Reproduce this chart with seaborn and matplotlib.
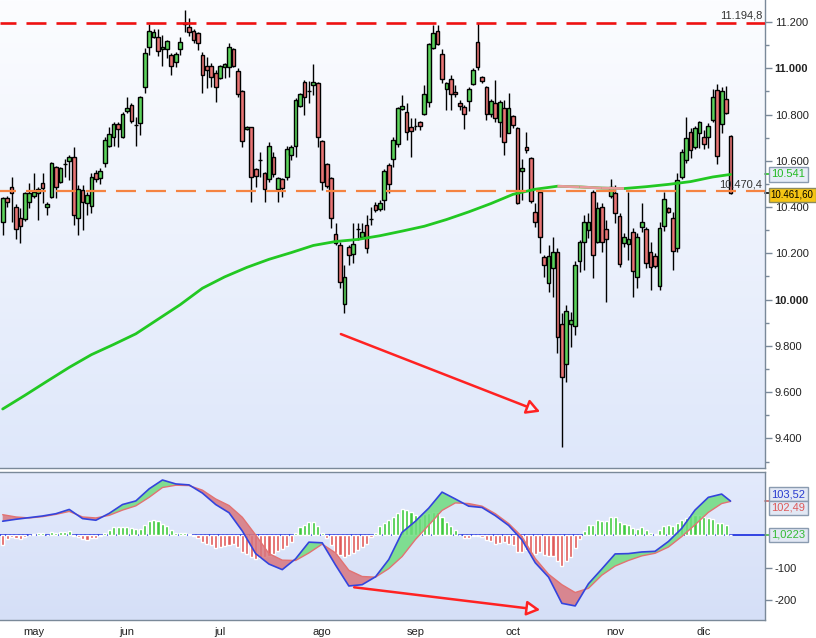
import numpy as np
import pandas as pd
import matplotlib
matplotlib.use("Agg")
import matplotlib.pyplot as plt
import matplotlib.transforms as mtransforms
from matplotlib.colors import LinearSegmentedColormap
import seaborn as sns

# ---------------- data (IBEX-like daily candles, Apr 22 - Dec 9) ----------------
dates = pd.bdate_range("2014-04-22", "2014-12-09")
dates = dates[dates != pd.Timestamp("2014-05-01")]

opens = [10337,10438,10485,10399,10351,10347,10423,10449,10459,10503,
         10399,10445,10572,10510,10585,10601,10615,10351,10474,10416,
         10406,10549,10524,10592,10665,10701,10758,10704,10817,10840,
         10756,10762,10918,11090,11137,11134,11083,11082,11056,11029,
         11082,11194,11177,11163,11151,11059,11010,11011,10978,10956,
         11007,11004,11082,10988,10902,10737,10745,10563,10603,10546,
         10520,10615,10477,10520,10529,10624,10665,10838,10939,10903,
         10928,10935,10686,10586,10524,10282,10236,9979,10226,10196,
         10306,10272,10321,10349,10409,10390,10430,10582,10606,10671,
         10822,10810,10745,10749,10766,10801,10853,11086,11161,11060,
         10909,10952,10896,10848,10831,10858,10932,11112,10961,10918,
         10801,10848,10769,10827,10722,10794,10740,10557,10658,10611,
         10380,10467,10183,10070,10135,10204,9894,9722,9894,9887,
         10167,10250,10301,10467,10250,10402,10304,10449,10459,10361,
         10243,10240,10291,10099,10315,10304,10204,10190,10059,10318,
         10395,10351,10222,10531,10603,10723,10661,10722,10704,10701,
         10776,10906,10759,10867,10707]
highs = [10445,10448,10531,10413,10394,10467,10503,10546,10488,10549,
         10423,10596,10579,10575,10606,10625,10661,10495,10495,10467,
         10546,10560,10567,10704,10748,10769,10769,10812,10877,10848,
         10791,10880,11086,11191,11168,11168,11144,11122,11065,11072,
         11137,11252,11216,11168,11158,11072,11050,11021,10993,11014,
         11021,11108,11086,11003,10906,10750,10748,10567,10640,10553,
         10683,10640,10531,10524,10664,10668,10870,10892,10949,10945,
         11018,10942,10690,10592,10531,10330,10250,10150,10236,10330,
         10333,10333,10366,10402,10423,10431,10563,10589,10701,10834,
         10884,10848,10784,10786,10773,10928,11111,11187,11187,11082,
         10942,10971,10928,10863,10841,10918,11000,11195,10967,10923,
         10866,10949,10863,10863,10892,10798,10745,10606,10726,10618,
         10416,10474,10193,10236,10272,10222,9941,9977,9948,10167,
         10258,10366,10373,10474,10423,10416,10344,10520,10495,10373,
         10286,10467,10308,10286,10416,10315,10250,10200,10337,10467,
         10402,10380,10546,10650,10791,10740,10750,10773,10733,10762,
         10909,10932,10920,10923,10711]
lows = [10279,10402,10337,10263,10246,10341,10394,10438,10344,10416,
        10366,10438,10438,10503,10531,10517,10322,10279,10301,10366,
        10373,10510,10500,10575,10661,10664,10661,10697,10805,10765,
        10665,10711,10892,11057,11129,11053,11010,11043,10971,11007,
        11057,11158,11139,11108,11079,10892,10913,10920,10853,10952,
        10956,10964,11007,10877,10661,10733,10423,10488,10531,10423,
        10510,10531,10423,10445,10517,10603,10618,10834,10798,10851,
        10884,10661,10474,10481,10308,10236,10049,9943,10150,10160,
        10258,10265,10200,10322,10380,10384,10387,10459,10575,10661,
        10820,10690,10618,10733,10733,10798,10834,11082,11101,10938,
        10820,10820,10877,10820,10736,10815,10928,10993,10935,10776,
        10791,10769,10704,10625,10719,10740,10413,10430,10632,10416,
        10315,10200,10099,10034,10013,9768,9364,9645,9796,9847,
        10121,10128,10265,10092,10243,10207,9991,10438,10330,10139,
        10229,10171,10013,10049,10294,10135,10041,10135,10041,10298,
        10373,10128,10207,10520,10589,10611,10650,10654,10650,10654,
        10769,10586,10719,10802,10456]
closes = [10438,10423,10459,10304,10320,10459,10459,10467,10477,10481,
          10413,10589,10485,10567,10588,10615,10366,10477,10423,10452,
          10529,10520,10557,10690,10714,10758,10736,10801,10827,10773,
          10753,10877,11065,11163,11155,11076,11090,11116,11008,11060,
          11112,11190,11155,11122,11108,10969,10993,10961,10920,11010,
          11018,11090,11008,10887,10687,10745,10531,10536,10602,10477,
          10665,10541,10524,10481,10650,10658,10863,10887,10877,10902,
          10939,10704,10510,10492,10351,10243,10075,10099,10191,10239,
          10304,10291,10222,10347,10387,10419,10556,10498,10690,10827,
          10837,10723,10729,10752,10752,10887,11103,11151,11103,10952,
          10938,10887,10887,10838,10801,10909,10993,11004,10946,10801,
          10860,10784,10853,10683,10827,10755,10416,10567,10647,10428,
          10337,10272,10148,10188,10204,9837,9664,9952,9912,10150,
          10247,10334,10337,10193,10395,10250,10261,10488,10373,10152,
          10272,10260,10124,10269,10337,10157,10142,10145,10308,10433,
          10377,10210,10517,10639,10697,10647,10740,10769,10671,10750,
          10874,10621,10903,10805,10461.6]

# 200-session moving average, read every 5 sessions
ma_idx = list(range(0, 161, 5)) + [164]
ma200 = [9527, 9586, 9647, 9707, 9762, 9806, 9852, 9915, 9978, 10049,
         10098, 10139, 10174, 10203, 10234, 10251, 10260, 10276, 10296, 10317,
         10346, 10379, 10415, 10455, 10477, 10490, 10487, 10482, 10480, 10488,
         10498, 10510, 10530, 10541]

# MACD and signal, read every 3 sessions
macd_idx = list(range(0, 163, 3)) + [164]
macd = [42, 48, 53, 58, 65, 78, 50, 45, 66, 93, 104, 141, 168, 156, 153, 128, 93, 68,
        12, -57, -89, -106, -73, -22, -24, -92, -156, -152, -128, -75, 8, 42, 82, 131,
        110, 88, 84, 59, 29, -15, -85, -129, -209, -217, -149, -104, -58, -57, -52, -50,
        -20, 20, 76, 115, 125, 103.52]
signal = [62, 55, 52, 56, 63, 72, 55, 52, 60, 76, 89, 115, 145, 152, 151, 137, 110, 90,
          54, 0, -57, -77, -78, -55, -28, -55, -108, -127, -129, -103, -66, -14, 30, 75,
          98, 96, 88, 65, 35, -5, -72, -120, -152, -176, -163, -123, -95, -78, -64, -56,
          -37, -5, 31, 69, 96, 102.49]
hist = [-32, -11, -7, -9, -12, -5, -1, 4, 7, 7,
        1, 10, 7, 9, 10, 13, -3, -7, -11, -16,
        -9, -9, -4, 7, 15, 23, 24, 25, 25, 21,
        17, 19, 31, 44, 46, 43, 33, 28, 16, 7,
        7, 7, 4, -2, -9, -22, -29, -31, -39, -37,
        -34, -31, -27, -37, -51, -57, -67, -74, -71, -67,
        -64, -57, -49, -44, -34, -21, 6, 25, 31, 39,
        41, 28, 6, -9, -32, -54, -61, -67, -61, -54,
        -47, -37, -29, -7, 6, 26, 36, 46, 56, 68,
        80, 76, 69, 61, 53, 63, 68, 71, 69, 56,
        39, 26, 14, 0, -9, -9, -4, -2, -6, -14,
        -19, -29, -26, -21, -29, -31, -52, -51, -47, -59,
        -57, -51, -61, -64, -64, -79, -94, -79, -67, -39,
        -11, 13, 31, 31, 46, 43, 43, 56, 56, 39,
        33, 31, 21, 19, 24, 16, 6, 4, 16, 26,
        31, 26, 36, 46, 51, 61, 61, 61, 56, 51,
        49, 36, 36, 31, 1]

resistance = 11194.8
support = 10470.4
last_price = 10461.6
ma_last = 10541
month_names = ["may", "jun", "jul", "ago", "sep", "oct", "nov", "dic"]

# ---------------- styling ----------------
sns.set_style("white")
plt.rcParams["font.family"] = ["Liberation Sans", "DejaVu Sans"]
plt.rcParams["lines.scale_dashes"] = False

W, H = 816, 638
fig = plt.figure(figsize=(W / 100, H / 100), dpi=100, facecolor="white")
ax = fig.add_axes([0, 1 - 468 / H, 765 / W, 468 / H])
ax2 = fig.add_axes([0, 1 - 620 / H, 765 / W, (620 - 471.5) / H])

XL = (-0.604, 171.77)
PL = (9272, 11295)
ML = (-260, 194)
spine_c = "#7a8999"
GREEN = "#5cd35c"
RED = "#e87474"


def gradient(a, top, bottom):
    cmap = LinearSegmentedColormap.from_list("g", [bottom, top])
    a.imshow(np.linspace(0, 1, 256).reshape(-1, 1), cmap=cmap, aspect="auto",
             extent=[0, 1, 0, 1], transform=a.transAxes, origin="lower", zorder=0)


gradient(ax, "#fcfdff", "#dee7fa")
gradient(ax2, "#e3eafc", "#d5dff7")

# ---------------- candles ----------------
x = np.arange(len(opens))
o = np.array(opens, float); c = np.array(closes, float)
hh = np.array(highs, float); ll = np.array(lows, float)
up = c >= o
ax.vlines(x, ll, hh, color="black", lw=1.0, zorder=3)
ax.bar(x, np.maximum(np.abs(c - o), 1.5), bottom=np.minimum(o, c), width=0.84,
       color=np.where(up, GREEN, RED), edgecolor="black", linewidth=1.0, zorder=4)

# moving average (green rising, pink falling)
sns.lineplot(x=ma_idx, y=ma200, ax=ax, color="#22c822", lw=2.0, zorder=5)
for k in range(len(ma_idx) - 1):
    if ma200[k + 1] < ma200[k]:
        ax.plot(ma_idx[k:k + 2], ma200[k:k + 2], color="#e89a9a", lw=2.0,
                zorder=5.5, solid_capstyle="butt")

# horizontal levels
ax.axhline(resistance, color="#ee1111", lw=1.9, ls=(2.9, (14.4, 7.2)), zorder=6)
ax.axhline(support, color="#f58341", lw=1.6, ls=(2.9, (14.4, 7.2)), zorder=6)

# divergence arrows
arrow_kw = dict(arrowstyle="-|>,head_length=0.4,head_width=0.22", lw=1.8,
                edgecolor="#ff2222", facecolor="#eef2fc", mutation_scale=20,
                shrinkA=0, shrinkB=0)
ax.annotate("", xy=(121.1, 9515), xytext=(76.2, 9851), arrowprops=arrow_kw, zorder=7)
ax2.annotate("", xy=(121.1, -229), xytext=(79.2, -160), arrowprops=arrow_kw, zorder=7)

# level text
ax.text(762 / 765, 1 - 15.5 / 468, "11.194,8", transform=ax.transAxes, ha="right",
        va="center", fontsize=8, color="#333333", zorder=8)
ax.text(762 / 765, 1 - 184.3 / 468, "10.470,4", transform=ax.transAxes, ha="right",
        va="center", fontsize=8, color="#333333", zorder=8)

ax.set_xlim(*XL)
ax.set_ylim(*PL)
ax.set_xticks([])
ax.set_xlabel(""); ax.set_ylabel("")
ax.yaxis.tick_right()
major = list(range(9400, 11201, 200))
ax.set_yticks(major)
ax.set_yticklabels([f"{v:,}".replace(",", ".") for v in major])
ax.set_yticks([v for v in range(9300, 11300, 100) if v not in major], minor=True)
ax.tick_params(axis="y", which="major", length=5, width=1, color=spine_c,
               labelsize=8, labelcolor="#222222", pad=2)
ax.tick_params(axis="y", which="minor", length=3, width=1, color=spine_c)
for lab, v in zip(ax.get_yticklabels(), major):
    if v in (10000, 11000):
        lab.set_fontweight("bold")
for s in ["left", "top"]:
    ax.spines[s].set_visible(False)
for s in ["right", "bottom"]:
    ax.spines[s].set_color(spine_c); ax.spines[s].set_linewidth(1)

# right-side value boxes (price)
bt = mtransforms.blended_transform_factory(ax.transAxes, ax.transData)
ax.plot([1.0, 1.007], [ma_last, ma_last], color="#22c822", lw=1.2, transform=bt, clip_on=False)
ax.plot([1.0, 1.007], [last_price, last_price], color="black", lw=1.2, transform=bt, clip_on=False)
ax.text(1.0085, ma_last, "10.541", transform=bt, ha="left", va="center", fontsize=8,
        color="#22bb22", clip_on=False, zorder=9,
        bbox=dict(boxstyle="square,pad=0.2", fc="#e6ecf6", ec="#8a9bb0", lw=1))
ax.text(1.0075, last_price - 8, "10.461,60", transform=bt, ha="left", va="center",
        fontsize=6.9, color="black", clip_on=False, zorder=9,
        bbox=dict(boxstyle="square,pad=0.2", fc="#f6c514", ec="#8a8a60", lw=1))

# ---------------- MACD panel ----------------
hcol = [("#3fca3f" if v >= 0 else "#e05a5a") for v in hist]
ax2.axhline(0, color="#2436e0", lw=1.3, zorder=2)
ax2.bar(x, hist, width=0.7, color=hcol, zorder=3)
mi = np.array(macd_idx, float); mv = np.array(macd, float); sv = np.array(signal, float)
ax2.fill_between(mi, mv, sv, where=mv >= sv, interpolate=True, color="#6fdc7f",
                 alpha=0.85, lw=0, zorder=4)
ax2.fill_between(mi, mv, sv, where=mv < sv, interpolate=True, color="#d8767e",
                 alpha=0.85, lw=0, zorder=4)
sns.lineplot(x=macd_idx, y=signal, ax=ax2, color="#e27272", lw=1.0, zorder=5)
sns.lineplot(x=macd_idx, y=macd, ax=ax2, color="#3444dd", lw=1.2, zorder=6)

ax2.set_xlim(*XL)
ax2.set_ylim(*ML)
ax2.set_xlabel(""); ax2.set_ylabel("")
month_pos = [int(np.argmax((dates.month == m))) for m in range(5, 13)]
ax2.set_xticks(month_pos)
ax2.set_xticklabels(month_names)
ax2.tick_params(axis="x", length=3, width=1, color=spine_c, labelsize=8,
                labelcolor="#222222", pad=2)
ax2.yaxis.tick_right()
ax2.set_yticks([-200, -100])
ax2.set_yticklabels(["-200", "-100"])
ax2.tick_params(axis="y", length=5, width=1, color=spine_c, labelsize=8,
                labelcolor="#222222", pad=2)
ax2.spines["left"].set_visible(False)
for s in ["right", "bottom", "top"]:
    ax2.spines[s].set_color(spine_c); ax2.spines[s].set_linewidth(1)

bt2 = mtransforms.blended_transform_factory(ax2.transAxes, ax2.transData)
ax2.plot([1.0, 1.007], [103.52, 103.52], color="#cc6b6b", lw=1.2, transform=bt2, clip_on=False)
ax2.plot([1.0, 1.007], [1.02, 1.02], color="#44bb44", lw=1.2, transform=bt2, clip_on=False)
box_kw = dict(boxstyle="square,pad=0.2", fc="#e2e8f4", ec="#8a9bb0", lw=1)
ax2.text(1.0085, 125, "103,52", transform=bt2, ha="left", va="center", fontsize=8,
         color="#2a3bd0", clip_on=False, bbox=box_kw)
ax2.text(1.0085, 83, "102,49", transform=bt2, ha="left", va="center", fontsize=8,
         color="#dd5a5a", clip_on=False, bbox=box_kw)
ax2.text(1.0085, 0, "1,0223", transform=bt2, ha="left", va="center", fontsize=8,
         color="#33bb33", clip_on=False, bbox=box_kw)

fig.savefig("out.png", dpi=100, facecolor="white")
